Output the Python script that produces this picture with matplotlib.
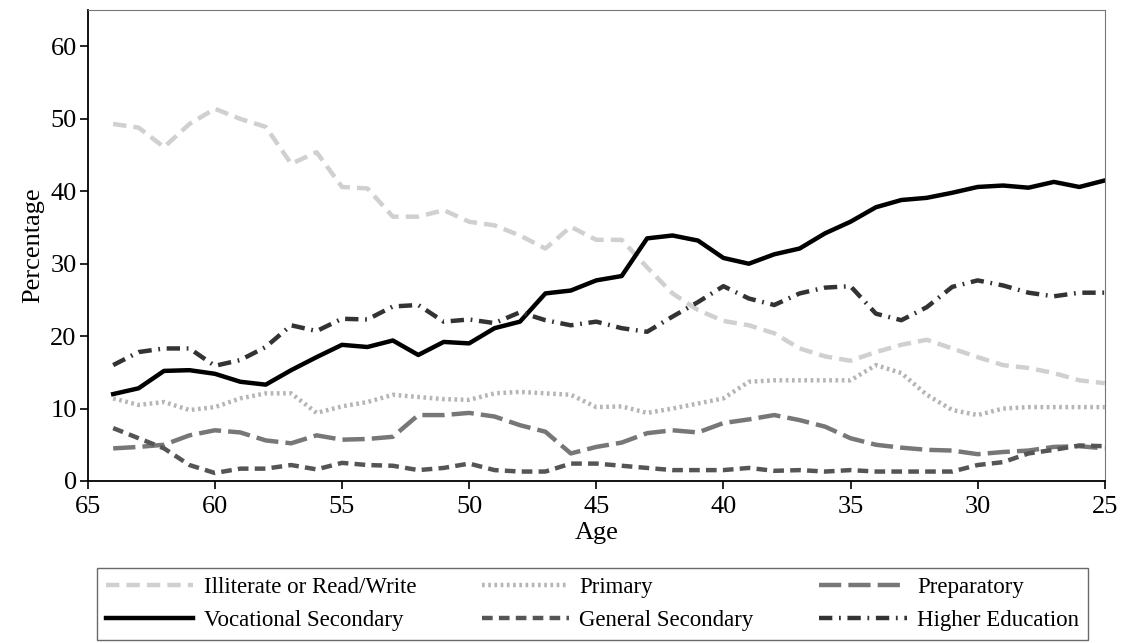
import matplotlib.pyplot as plt

plt.rcParams['font.family'] = ['Liberation Serif', 'DejaVu Serif']

# Ages 64 down to 25
ages = list(range(64, 24, -1))

illiterate = [49.3, 48.8, 46.1, 49.3, 51.4, 50.0, 48.9, 43.8, 45.4, 40.6,
              40.4, 36.5, 36.5, 37.4, 35.8, 35.3, 33.9, 32.1, 35.1, 33.3,
              33.3, 29.5, 25.9, 23.6, 22.1, 21.5, 20.4, 18.3, 17.2, 16.6,
              17.8, 18.8, 19.5, 18.3, 17.1, 16.0, 15.6, 14.9, 13.9, 13.5]
primary = [11.4, 10.5, 10.9, 9.8, 10.2, 11.4, 12.1, 12.1, 9.4, 10.3,
           10.9, 11.9, 11.6, 11.3, 11.2, 12.1, 12.3, 12.1, 11.9, 10.2,
           10.3, 9.4, 10.0, 10.7, 11.4, 13.7, 13.9, 13.9, 13.9, 13.9,
           16.0, 14.9, 11.9, 9.8, 9.1, 10.0, 10.2, 10.2, 10.2, 10.2]
preparatory = [4.5, 4.7, 5.0, 6.3, 7.0, 6.7, 5.6, 5.2, 6.3, 5.7,
               5.8, 6.1, 9.1, 9.1, 9.4, 8.9, 7.7, 6.8, 3.8, 4.7,
               5.3, 6.6, 7.0, 6.7, 8.0, 8.5, 9.1, 8.4, 7.5, 5.9,
               5.0, 4.6, 4.3, 4.2, 3.7, 4.0, 4.2, 4.7, 4.8, 4.5]
vocational = [12.0, 12.8, 15.2, 15.3, 14.8, 13.7, 13.3, 15.3, 17.1, 18.8,
              18.5, 19.4, 17.4, 19.2, 19.0, 21.1, 22.0, 25.9, 26.3, 27.7,
              28.3, 33.5, 33.9, 33.2, 30.8, 30.0, 31.3, 32.1, 34.2, 35.8,
              37.8, 38.8, 39.1, 39.8, 40.6, 40.8, 40.5, 41.3, 40.6, 41.5]
general_sec = [7.3, 5.9, 4.5, 2.2, 1.1, 1.7, 1.7, 2.2, 1.6, 2.5,
               2.2, 2.1, 1.5, 1.8, 2.4, 1.5, 1.3, 1.3, 2.4, 2.4,
               2.1, 1.8, 1.5, 1.5, 1.5, 1.8, 1.4, 1.5, 1.3, 1.5,
               1.3, 1.3, 1.3, 1.3, 2.2, 2.6, 3.8, 4.3, 4.9, 4.8]
higher = [16.0, 17.8, 18.3, 18.3, 15.9, 16.7, 18.5, 21.5, 20.7, 22.4,
          22.3, 24.1, 24.3, 22.0, 22.3, 21.8, 23.3, 22.2, 21.5, 22.0,
          21.1, 20.6, 22.7, 24.7, 26.9, 25.2, 24.3, 25.9, 26.7, 26.9,
          23.1, 22.2, 24.0, 26.8, 27.7, 27.0, 26.0, 25.5, 26.0, 26.0]

fig = plt.figure(figsize=(11.25, 6.43), dpi=100)
ax = fig.add_axes([0.078, 0.252, 0.904, 0.732])

lw = 3.2
h_ill, = ax.plot(ages, illiterate, color='#d0d0d0', lw=lw, dashes=(3, 1.6),
                 label='Illiterate or Read/Write')
h_pri, = ax.plot(ages, primary, color='#b5b5b5', lw=lw, dashes=(0.6, 0.8),
                 label='Primary')
h_prep, = ax.plot(ages, preparatory, color='#777777', lw=lw, dashes=(5, 1.6),
                  label='Preparatory')
h_voc, = ax.plot(ages, vocational, color='black', lw=lw, label='Vocational Secondary')
h_gen, = ax.plot(ages, general_sec, color='#555555', lw=lw, dashes=(2.4, 1.4),
                 label='General Secondary')
h_hi, = ax.plot(ages, higher, color='#333333', lw=lw, dashes=(3, 1.5, 0.4, 1.5),
                label='Higher Education')

ax.set_xlim(65, 25)
ax.set_ylim(0, 65)
ax.set_xticks(range(65, 24, -5))
ax.set_yticks(range(0, 61, 10))
ax.tick_params(labelsize=19, length=6, width=1.2, direction='out')
ax.tick_params(axis='x', pad=5)
ax.tick_params(axis='y', pad=2)
ax.set_xlabel('Age', fontsize=19, labelpad=3)
ax.set_ylabel('Percentage', fontsize=19, labelpad=4)
for side in ['top', 'right']:
    ax.spines[side].set_color('#777777')
for side in ['left', 'bottom']:
    ax.spines[side].set_linewidth(1.3)

handles = [h_ill, h_voc, h_pri, h_gen, h_prep, h_hi]
leg = fig.legend(handles=handles, loc='lower left', ncol=3, mode='expand',
                 bbox_to_anchor=(97 / 1125, 3 / 643, (1088 - 97) / 1125, 77 / 643),
                 fontsize=16.5, fancybox=False, edgecolor='#444444',
                 handlelength=3.8, handletextpad=0.45, borderpad=0.4,
                 labelspacing=0.5, borderaxespad=0)
leg.get_frame().set_linewidth(1.0)

fig.savefig('out.png', dpi=100)
